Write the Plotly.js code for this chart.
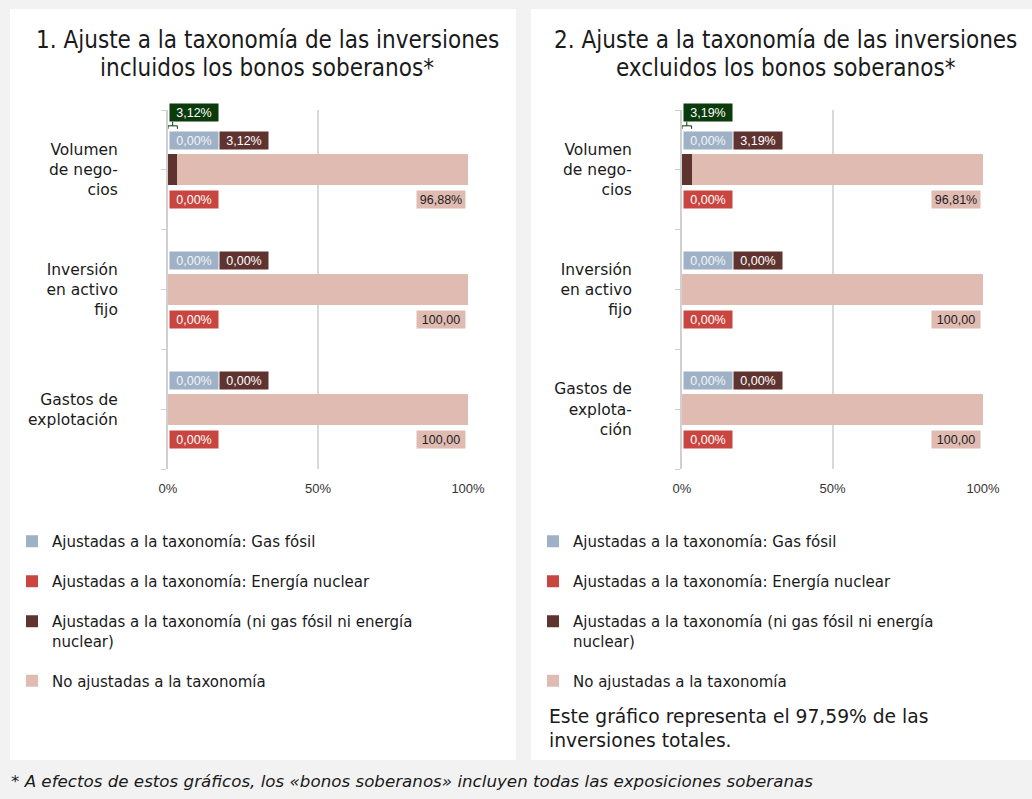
<!DOCTYPE html>
<html>
<head>
<meta charset="utf-8">
<script src="https://cdn.plot.ly/plotly-3.0.1.min.js"></script>
<style>html,body{margin:0;padding:0;background:#f2f2f2;}#chart{width:1032px;height:799px;}</style>
</head>
<body>
<div id="chart"></div>
<script>
// ---- data ----
const categories1 = ['Volumen<br>de nego-<br>cios', 'Inversión<br>en activo<br>fijo', 'Gastos de<br>explotación'];
const categories2 = ['Volumen<br>de nego-<br>cios', 'Inversión<br>en activo<br>fijo', 'Gastos de<br>explota-<br>ción'];
const gas1 = [0, 0, 0];
const nuclear1 = [0, 0, 0];
const aligned1 = [3.12, 0, 0];
const notAligned1 = [96.88, 100, 100];
const gas2 = [0, 0, 0];
const nuclear2 = [0, 0, 0];
const aligned2 = [3.19, 0, 0];
const notAligned2 = [96.81, 100, 100];
const seriesNames = ['Ajustadas a la taxonomía: Gas fósil', 'Ajustadas a la taxonomía: Energía nuclear', 'Ajustadas a la taxonomía (ni gas fósil ni energía<br>nuclear)', 'No ajustadas a la taxonomía'];
const xTickVals = [0, 50, 100];
const xTickText = ['0%', '50%', '100%'];
const titleLines1 = ['1. Ajuste a la taxonomía de las inversiones', 'incluidos los bonos soberanos*'];
const titleLines2 = ['2. Ajuste a la taxonomía de las inversiones', 'excluidos los bonos soberanos*'];
const note2 = 'Este gráfico representa el 97,59% de las<br>inversiones totales.';
const footnote = '* A efectos de estos gráficos, los «bonos soberanos» incluyen todas las exposiciones soberanas';

// ---- styles ----
const colors = ['#9fb1c6', '#c8463f', '#5f3430', '#e0bbb2'];
const labelText = ['#f3f5f8', '#ffffff', '#ffffff', '#222222'];
const totalColor = '#0b3a0c';
const W = 1032, H = 799;
const px = v => v / W, py = v => 1 - v / H;
const bodyFont = 'DejaVu Sans, Liberation Sans, sans-serif';
const labelFont = 'Liberation Sans, Arial, sans-serif';
const titleFont = 'DejaVu Sans Condensed, Liberation Sans Narrow, sans-serif';

const panels = [
  {cats: categories1, series: [gas1, nuclear1, aligned1, notAligned1], title: titleLines1, x: [168, 468], xa: 'x', ya: 'y', legend: 'legend', left: 10, right: 516},
  {cats: categories2, series: [gas2, nuclear2, aligned2, notAligned2], title: titleLines2, x: [682, 983], xa: 'x2', ya: 'y2', legend: 'legend2', left: 531, right: 1032}
];

const fmt = v => (v.toFixed(2).replace('.', ',') + '%').slice(0, 6);

const traces = [];
const annotations = [];
const shapes = [];
panels.forEach((p, pi) => {
  const idx = p.cats.map((c, i) => i);
  shapes.push({type: 'rect', xref: 'paper', yref: 'paper', x0: px(p.left), x1: px(p.right), y0: py(760), y1: py(9), fillcolor: '#ffffff', line: {width: 0}, layer: 'below'});
  p.series.forEach((vals, si) => {
    traces.push({
      type: 'bar', orientation: 'h', x: vals, y: idx, name: seriesNames[si],
      xaxis: p.xa, yaxis: p.ya, width: 0.26,
      marker: {color: colors[si], line: {width: 0}},
      legend: p.legend, legendgroup: 'g' + pi + si, hoverinfo: 'skip'
    });
  });
  const axx = p.xa, axy = p.ya;
  idx.forEach(i => {
    const lab = (text, si, x, xanchor, xshift, yshift) => annotations.push({
      xref: axx, yref: axy, x: x, y: i, text: text, showarrow: false,
      xanchor: xanchor, yanchor: 'middle', xshift: xshift, yshift: yshift,
      bgcolor: colors[si], font: {family: labelFont, size: 12.5, color: labelText[si]},
      width: 46, height: 15, borderpad: 1, align: 'center'
    });
    lab(fmt(p.series[0][i]), 0, 0, 'left', 1, 29);
    lab(fmt(p.series[2][i]), 2, 0, 'left', 51, 29);
    lab(fmt(p.series[1][i]), 1, 0, 'left', 1, -30);
    lab(fmt(p.series[3][i]), 3, 100, 'right', -2, -30);
    const total = p.series[0][i] + p.series[1][i] + p.series[2][i];
    if (total > 0) {
      annotations.push({
        xref: axx, yref: axy, x: 0, y: i, text: fmt(total), showarrow: false,
        xanchor: 'left', yanchor: 'middle', xshift: 1, yshift: 57,
        bgcolor: totalColor, font: {family: labelFont, size: 12.5, color: '#ffffff'},
        width: 46, height: 15, borderpad: 1, align: 'center'
      });
      shapes.push({type: 'path', xref: axx, yref: axy, ysizemode: 'pixel', yanchor: i,
        path: `M0,41 L0,44 L${total},44 L${total},41 M${total / 2},44 L${total / 2},48`,
        line: {color: totalColor, width: 1}});
    }
  });
  p.title.forEach((line, li) => annotations.push({xref: 'paper', yref: 'paper', x: px((p.left + p.right) / 2 + 4), y: py(40 + 28 * li), text: line,
    showarrow: false, xanchor: 'center', yanchor: 'middle', align: 'center',
    font: {family: titleFont, size: 24, color: '#1a1a1a'}}));
});

annotations.push({xref: 'paper', yref: 'paper', x: px(547), y: py(728), text: note2, showarrow: false,
  xanchor: 'left', yanchor: 'middle', align: 'left', font: {family: bodyFont, size: 18.7, color: '#1a1a1a'}});
annotations.push({xref: 'paper', yref: 'paper', x: px(9), y: py(781), text: '<i>' + footnote + '</i>', showarrow: false,
  xanchor: 'left', yanchor: 'middle', align: 'left', font: {family: bodyFont, size: 16.7, color: '#1a1a1a'}});

const xaxisBase = d => ({domain: [px(d[0]), px(d[1])], range: [0, 100], tickvals: xTickVals, ticktext: xTickText,
  showgrid: true, gridcolor: '#d9d9d9', gridwidth: 2, zeroline: false, showline: false, ticks: '',
  ticklabelstandoff: 10, tickfont: {family: labelFont, size: 13, color: '#333333'}, fixedrange: true});
const yaxisBase = cats => ({domain: [py(469), py(110)], range: [2.5, -0.5],
  tickvals: [-0.5, 0, 0.5, 1, 1.5, 2, 2.5], ticktext: ['', cats[0], '', cats[1], '', cats[2], ''],
  showgrid: false, zeroline: false, showline: true, linecolor: '#d0d0d0', linewidth: 2,
  ticks: 'outside', ticklen: 5, tickcolor: '#d0d0d0', tickwidth: 1, ticklabelstandoff: 40,
  tickfont: {family: bodyFont, size: 15.5, color: '#1a1a1a'}, fixedrange: true});

const legendBase = x => ({x: px(x), y: py(525), xanchor: 'left', yanchor: 'top', bgcolor: 'rgba(0,0,0,0)',
  font: {family: bodyFont, size: 15, color: '#1a1a1a'}, traceorder: 'grouped', tracegroupgap: 17.5, valign: 'top', itemclick: false});

const layout = {
  width: W, height: H, margin: {l: 0, r: 0, t: 0, b: 0},
  paper_bgcolor: '#f2f2f2', plot_bgcolor: 'rgba(0,0,0,0)',
  barmode: 'stack', showlegend: true,
  xaxis: Object.assign(xaxisBase(panels[0].x), {anchor: 'y'}),
  yaxis: Object.assign(yaxisBase(categories1), {anchor: 'x'}),
  xaxis2: Object.assign(xaxisBase(panels[1].x), {anchor: 'y2'}),
  yaxis2: Object.assign(yaxisBase(categories2), {anchor: 'x2'}),
  legend: legendBase(12),
  legend2: legendBase(533),
  annotations: annotations, shapes: shapes
};

Plotly.newPlot('chart', traces, layout, {staticPlot: true, displayModeBar: false});
</script>
</body>
</html>
